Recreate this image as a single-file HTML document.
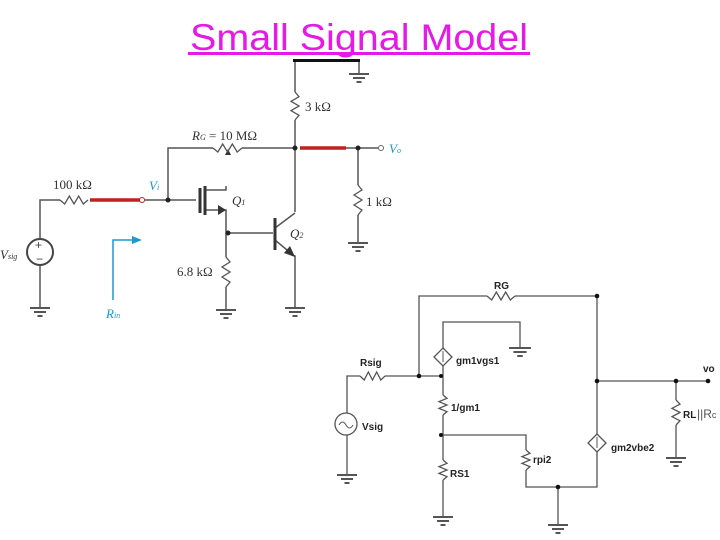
<!DOCTYPE html>
<html><head><meta charset="utf-8"><style>
body{margin:0;background:#fff;}
svg{display:block;}
text{font-family:"Liberation Sans",sans-serif;}
.s{font-family:"Liberation Serif",serif;}
</style></head><body>
<svg id="g" width="720" height="540" viewBox="0 0 720 540" xmlns="http://www.w3.org/2000/svg">
<text x="190" y="50" font-size="37" fill="#e619e6" textLength="338" lengthAdjust="spacingAndGlyphs">Small Signal Model</text>
<rect x="188" y="52" width="342" height="3" fill="#e619e6"/>
<g fill="none" stroke="#555" stroke-width="1.5">
<!-- top circuit -->
<polyline points="359,61 359,74"/>
<polyline points="295,62 295,92"/><polyline points="295,120 295,212"/>
<polyline points="168,200 168,148 213,148"/><polyline points="242,148 295,148"/>
<polyline points="346,148 378,148"/>
<polyline points="358,148 358,185"/><polyline points="358,215 358,243"/>
<polyline points="40,252 40,200 60,200"/>
<polyline points="40,265 40,308"/>
<polyline points="145,200 196,200"/>
<polyline points="205,190 226,190 226,186"/>
<polyline points="205,210 226,210 226,257"/>
<polyline points="226,287 226,310"/>
<polyline points="228,233 273,233"/>
<polyline points="275,228 295,213"/>
<polyline points="275,240 293,255 295,256 295,308"/>
</g>
<rect x="293" y="59" width="67" height="3" fill="#111"/>
<g stroke="#333" stroke-width="3"><line x1="200" y1="188" x2="200" y2="213"/><line x1="205" y1="186" x2="205" y2="215"/><line x1="275" y1="218" x2="275" y2="250"/></g>
<polygon points="226,210 218,205 218,215" fill="#333"/>
<polygon points="295,257 284,253 290,246" fill="#333"/>
<polygon points="228,149 225,155 231,155" fill="#333"/>
<g stroke="#c0201e" stroke-width="3.5"><line x1="90" y1="200" x2="140" y2="200"/><line x1="300" y1="148" x2="346" y2="148"/></g>
<circle cx="142" cy="200" r="2.5" fill="none" stroke="#c0201e"/>
<circle cx="381" cy="148" r="2.5" fill="none" stroke="#666"/>
<g fill="#222"><circle cx="295" cy="148" r="2.5"/><circle cx="358" cy="148" r="2.5"/><circle cx="168" cy="200" r="2.5"/><circle cx="228" cy="233" r="2.5"/></g>
<circle cx="40" cy="252" r="13" fill="#fff" stroke="#444" stroke-width="2"/>
<text x="35" y="249" font-size="12" fill="#444">+</text><text x="36" y="263" font-size="12" fill="#444">−</text>
<g stroke="#1a9ad0" stroke-width="1.5" fill="none"><polyline points="113,300 113,240 133,240"/></g>
<polygon points="142,240 132,236 132,244" fill="#1a9ad0"/>
<g class="s" font-size="13" fill="#333">
<text x="305" y="111" class="s">3 kΩ</text>
<text x="192" y="140" class="s"><tspan font-style="italic">R</tspan><tspan font-size="8" font-style="italic">G</tspan> = 10 MΩ</text>
<text x="53" y="189" class="s">100 kΩ</text>
<text x="232" y="205" class="s" font-style="italic">Q<tspan font-size="8">1</tspan></text>
<text x="290" y="238" class="s" font-style="italic">Q<tspan font-size="8">2</tspan></text>
<text x="366" y="206" class="s">1 kΩ</text>
<text x="177" y="276" class="s">6.8 kΩ</text>
<text x="0" y="259" class="s" font-style="italic">V<tspan font-size="8">sig</tspan></text>
</g>
<text x="149" y="190" class="s" font-size="13" font-style="italic" fill="#1a9ad0">V<tspan font-size="8">i</tspan></text>
<text x="389" y="153" class="s" font-size="13" font-style="italic" fill="#1a9ad0">V<tspan font-size="8">o</tspan></text>
<text x="106" y="318" class="s" font-size="13" font-style="italic" fill="#1a9ad0">R<tspan font-size="8">in</tspan></text>
<!-- bottom circuit -->
<g fill="none" stroke="#555" stroke-width="1.3">
<polyline points="419,376 419,296 487,296"/><polyline points="515,296 597,296 597,437"/>
<polyline points="347,413 347,376 360,376"/><polyline points="385,376 443,376"/>
<polyline points="347,435 347,475"/>
<polyline points="443,350 443,322 520,322 520,348"/>
<polyline points="443,364 443,395"/><polyline points="443,415 443,460"/><polyline points="443,480 443,517"/>
<polyline points="443,435 526,435 526,450"/><polyline points="526,470 526,487 597,487 597,449"/>
<polyline points="558,487 558,525"/>
<polyline points="597,381 708,381"/>
<polyline points="676,381 676,400"/><polyline points="676,425 676,458"/>
</g>
<g fill="#111"><circle cx="419" cy="376" r="2.3"/><circle cx="441" cy="376" r="2"/><circle cx="597" cy="296" r="2.3"/><circle cx="597" cy="381" r="2.3"/><circle cx="676" cy="381" r="2.3"/><circle cx="708" cy="381" r="2.3"/><circle cx="441" cy="435" r="2"/><circle cx="558" cy="487" r="2.3"/></g>
<g fill="#fff" stroke="#555" stroke-width="1.3"><polygon points="443,348 452,357 443,366 434,357"/><polygon points="597,434 606,443 597,452 588,443"/></g>
<g stroke="#555" stroke-width="1"><line x1="443" y1="351" x2="443" y2="362"/><line x1="597" y1="437" x2="597" y2="448"/></g>
<circle cx="346" cy="424" r="11" fill="#fff" stroke="#555" stroke-width="1.3"/>
<path d="M339,425 q3.5,-6 7,0 t7,0" fill="none" stroke="#555"/>
<g font-size="10" font-weight="bold" fill="#222">
<text x="494" y="289">RG</text><text x="360" y="366">Rsig</text><text x="456" y="364">gm1vgs1</text>
<text x="451" y="411">1/gm1</text><text x="362" y="430">Vsig</text><text x="450" y="477">RS1</text>
<text x="533" y="463">rpi2</text><text x="611" y="451">gm2vbe2</text><text x="703" y="372">vo</text>
<text x="683" y="418">RL</text>
</g>
<text x="697" y="418" font-size="12" fill="#555">||R<tspan font-size="9">c</tspan></text>
<g id="z" fill="none" stroke="#555" stroke-width="1.3"></g>
</svg>
<script>
var z=document.getElementById('z');
function R(x1,y1,x2,y2){var n=6,p=[];for(var i=0;i<=n;i++){var t=i/n,x=x1+(x2-x1)*t,y=y1+(y2-y1)*t,a=(i==0||i==n)?0:(i%2?4:-4);if(x1==x2)x+=a;else y+=a;p.push(x+','+y);}var e=document.createElementNS('http://www.w3.org/2000/svg','polyline');e.setAttribute('points',p.join(' '));z.appendChild(e);}
function G(x,y,w){var s=[[w,0],[w*0.6,4],[w*0.25,8]];s.forEach(function(q){var e=document.createElementNS('http://www.w3.org/2000/svg','line');e.setAttribute('x1',x-q[0]);e.setAttribute('x2',x+q[0]);e.setAttribute('y1',y+q[1]);e.setAttribute('y2',y+q[1]);e.setAttribute('stroke-width','2');z.appendChild(e);});}
R(295,92,295,120);R(213,148,242,148);R(60,200,88,200);R(358,185,358,215);R(226,257,226,287);
G(359,74,10);G(358,243,10);G(40,308,10);G(226,310,10);G(295,308,10);
R(487,296,515,296);R(360,376,385,376);R(443,395,443,415);R(443,460,443,480);R(526,450,526,470);R(676,400,676,425);
G(520,348,11);G(347,475,10);G(443,517,10);G(558,525,10);G(676,458,10);
</script>
</body></html>
